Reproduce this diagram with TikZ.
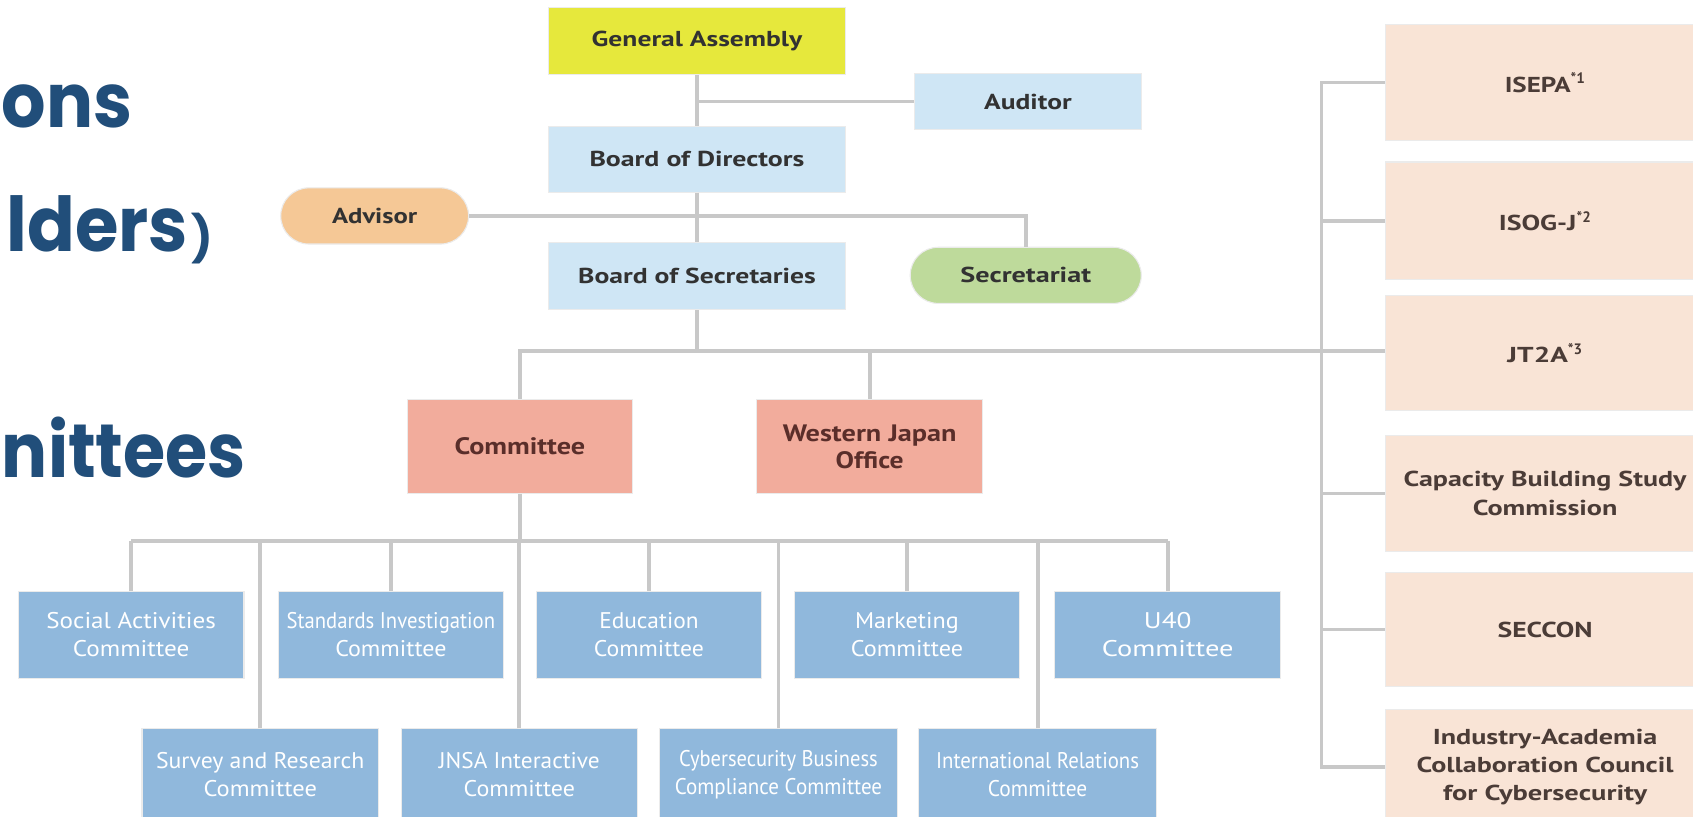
\documentclass[tikz,border=0pt]{standalone}
\usepackage{fontspec}
\usepackage{graphicx}
\setmainfont{PT Sans}
\newfontfamily\titlefont{Poppins}
\newcommand\fw[2]{\resizebox{#1pt}{\height}{#2}}
\definecolor{titleblue}{RGB}{33,78,122}
\definecolor{linegray}{RGB}{200,200,200}
\definecolor{gayellow}{RGB}{230,232,60}
\definecolor{lblue}{RGB}{207,230,245}
\definecolor{advpeach}{RGB}{245,200,150}
\definecolor{secgreen}{RGB}{190,218,155}
\definecolor{salmon}{RGB}{242,172,156}
\definecolor{cblue}{RGB}{144,184,220}
\definecolor{rpeach}{RGB}{249,228,214}
\definecolor{darktext}{RGB}{50,50,50}
\definecolor{browntext}{RGB}{90,46,42}
\definecolor{rtext}{RGB}{75,60,55}
\tikzset{
  sz/.style 2 args={minimum width=#1pt,minimum height=#2pt},
  box/.style={rectangle, draw=black!8, line width=1pt, inner sep=0pt, align=center},
  topbox/.style={box, font=\fontsize{20}{26}\selectfont\bfseries, text=darktext},
  pill/.style={topbox, rounded corners=26pt},
  salbox/.style={box, fill=salmon, font=\fontsize{22}{25}\selectfont\bfseries, text=browntext},
  combox/.style={box, fill=cblue, font=\fontsize{21}{26}\selectfont, text=white},
  rbox/.style={box, fill=rpeach, font=\fontsize{20}{26}\selectfont\bfseries, text=rtext, sz={296}{106}},
  conn/.style={draw=linegray, line width=3.5pt},
  ttl/.style={anchor=base east, font=\titlefont\bfseries\fontsize{70}{70}\selectfont, text=titleblue, inner sep=0pt}
}
\begin{document}
\begin{tikzpicture}[x=1pt,y=-1pt]
\clip (0,0) rectangle (1568,756);
\fill[white] (0,0) rectangle (1568,756);

% title fragments
\node[ttl] (t1) at (123,118) {\fw{121}{ons}};
\node[ttl, anchor=base west] (t2) at (6,233) {\fw{168}{lders}\hspace{3pt}\raisebox{-3pt}{\fontsize{42}{42}\selectfont)}};
\node[ttl] (t3) at (228,442) {\fw{226}{nittees}};

% top hierarchy
\node[topbox, fill=gayellow, sz={275}{62}] (ga) at (645.5,38) {\fw{195}{General Assembly}};
\node[topbox, fill=lblue, sz={210}{52}] (aud) at (952,94) {\fw{81}{Auditor}};
\node[topbox, fill=lblue, sz={275}{61}] (bod) at (645.5,147.5) {\fw{199}{Board of Directors}};
\node[pill, fill=advpeach, sz={174}{52}] (adv) at (347,200) {\fw{79}{Advisor}};
\node[topbox, fill=lblue, sz={275}{62}] (bos) at (645.5,256) {\fw{220}{Board of Secretaries}};
\node[pill, fill=secgreen, sz={214}{52}] (sec) at (950,255) {\fw{121}{Secretariat}};

% second level
\node[salbox, sz={209}{87}] (com) at (481.5,413.5) {\fw{121}{Committee}};
\node[salbox, sz={209}{87}] (wjo) at (805.5,413.5) {\fw{161}{Western Japan}\\\fw{63}{Office}};

% committees upper row
\node[combox, sz={209}{80}] (sa) at (121.5,588) {\fw{157}{Social Activities}\\\fw{108}{Committee}};
\node[combox, sz={208}{80}] (si) at (362,588) {\fw{193}{Standards Investigation}\\\fw{103}{Committee}};
\node[combox, sz={208}{80}] (ed) at (601,588) {\fw{92}{Education}\\\fw{102}{Committee}};
\node[combox, sz={208}{80}] (mk) at (840,588) {\fw{96}{Marketing}\\\fw{104}{Committee}};
\node[combox, sz={209}{80}] (u40) at (1081.5,588) {\fw{44}{U40}\\\fw{122}{Committee}};

% committees lower row
\node[combox, sz={219}{85}] (sr) at (241,717.5) {\fw{193}{Survey and Research}\\\fw{105}{Committee}};
\node[combox, sz={218}{85}] (jn) at (481,717.5) {\fw{149}{JNSA Interactive}\\\fw{103}{Committee}};
\node[combox, sz={220}{85}] (cb) at (721,717.5) {\fw{184}{Cybersecurity Business}\\\fw{192}{Compliance Committee}};
\node[combox, sz={220}{85}] (ir) at (961,717.5) {\fw{188}{International Relations}\\\fw{92}{Committee}};

% right column
\node[rbox, sz={296}{107}] (isepa) at (1431,76.5) {\fw{61}{ISEPA}\textsuperscript{*1}};
\node[rbox, sz={296}{109}] (isog) at (1431,204.5) {\fw{72}{ISOG-J}\textsuperscript{*2}};
\node[rbox] (jt) at (1431,327) {\fw{56}{JT2A}\textsuperscript{*3}};
\node[rbox, sz={296}{108}] (cap) at (1431,457) {\fw{262}{Capacity Building Study}\\\fw{134}{Commission}};
\node[rbox] (secc) at (1431,583) {\fw{88}{SECCON}};
\node[rbox] (iac) at (1431,710) {\fw{208}{Industry-Academia}\\\fw{238}{Collaboration Council}\\\fw{189}{for Cybersecurity}};

% connectors
\coordinate (b1) at (1224,325);
\coordinate (b2) at (481,501);
\coordinate (rsp) at (1224,0);

\draw[conn] (ga) -- (bod);
\draw[conn] (aud.west) -- (aud.west -| ga.south);
\draw[conn] (bod) -- (bos);
\draw[conn] (adv.east) -| (sec.north);
\draw[conn] (bos.south) -- (bos.south |- b1);
\draw[conn] (com.north) |- (jt.west |- b1);
\draw[conn] (wjo.north) -- (wjo.north |- b1);

\draw[conn] (com.south) -- (com.south |- b2);
\draw[conn] (sa.north |- b2) -- (u40.north |- b2);
\foreach \n in {sa,si,ed,mk,u40,sr,jn,cb,ir}
  \draw[conn] (\n.north) -- (\n.north |- b2);

\draw[conn] (isepa.west) -- (isepa.west -| rsp) -- (iac.west -| rsp) -- (iac.west);
\foreach \n in {isog,cap,secc}
  \draw[conn] (\n.west) -- (\n.west -| rsp);
\end{tikzpicture}
\end{document}
